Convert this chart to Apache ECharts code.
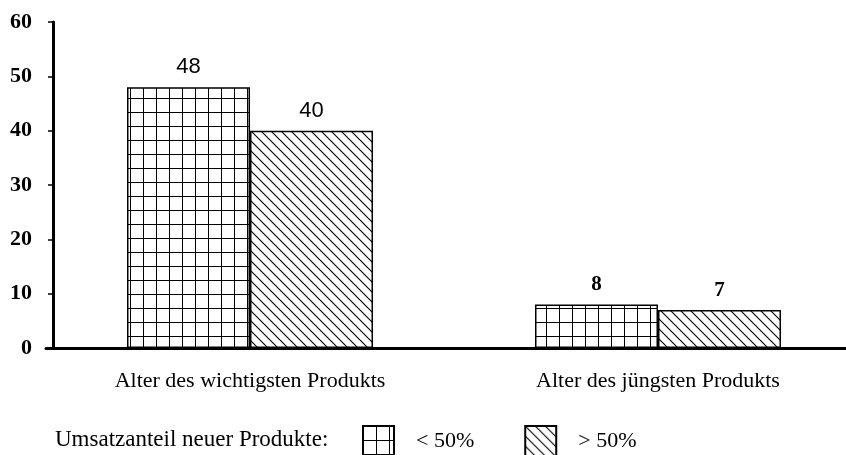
<!DOCTYPE html>
<html>
<head>
<meta charset="utf-8">
<script src="https://cdn.jsdelivr.net/npm/echarts@6/dist/echarts.min.js"></script>
<style>
  html, body { margin: 0; padding: 0; background: #fff; overflow: hidden; }
  /* etwas breiter als das Fenster: die x-Achse läuft rechts aus dem Bild */
  #chart { width: 862px; height: 455px; }
</style>
</head>
<body>
<div id="chart"></div>
<script>
const categories = ['Alter des wichtigsten Produkts', 'Alter des jüngsten Produkts']
const seriesNames = ['< 50%', '> 50%']
const lowShare = [48, 8]
const highShare = [40, 7]
const yTicks = [0, 10, 20, 30, 40, 50, 60]

// Kachel mit Karomuster
const makeGrid = () => {
    const c = document.createElement('canvas')
    c.width = 13
    c.height = 14
    const ctx = c.getContext('2d')
    ctx.fillStyle = '#fff'
    ctx.fillRect(0, 0, 13, 14)
    ctx.strokeStyle = '#000'
    ctx.lineWidth = 1
    ctx.beginPath()
    ctx.moveTo(0.5, 0)
    ctx.lineTo(0.5, 14)
    ctx.moveTo(0, 0.5)
    ctx.lineTo(13, 0.5)
    ctx.stroke()
    return c
}

// Kachel mit Schraffur (links oben nach rechts unten)
const makeHatch = () => {
    const s = 10
    const c = document.createElement('canvas')
    c.width = s
    c.height = s
    const ctx = c.getContext('2d')
    ctx.fillStyle = '#fff'
    ctx.fillRect(0, 0, s, s)
    ctx.strokeStyle = '#000'
    ctx.lineWidth = 1.1
    ctx.beginPath()
    ctx.moveTo(-1, -1)
    ctx.lineTo(s + 1, s + 1)
    ctx.moveTo(-1, s - 1)
    ctx.lineTo(1, s + 1)
    ctx.moveTo(s - 1, -1)
    ctx.lineTo(s + 1, 1)
    ctx.stroke()
    return c
}

const chart = echarts.init(document.getElementById('chart'))
const serif = '"Liberation Serif", "Times New Roman", serif'

// erste Gruppe serifenlos, zweite fett mit Serifen (wie im Original)
const labelFor = (i) => i === 0
    ? { fontFamily: '"Liberation Sans", Arial, sans-serif', fontSize: 22 }
    : { fontFamily: serif, fontSize: 21, fontWeight: 'bold' }

const option = {
    animation: false,
    title: {
        text: 'Umsatzanteil neuer Produkte:',
        left: 55,
        top: 428,
        padding: 0,
        textStyle: { fontFamily: serif, fontSize: 23, fontWeight: 'normal', color: '#000' }
    },
    legend: {
        data: seriesNames,
        icon: 'rect',
        left: 362,
        top: 425,
        itemWidth: 31,
        itemHeight: 30,
        itemGap: 50,
        padding: 0,
        textStyle: { fontFamily: serif, fontSize: 22, color: '#000', padding: [0, 0, 0, 17] }
    },
    grid: { left: 46, right: 0, top: 22, bottom: 107 },
    xAxis: {
        type: 'category',
        data: categories,
        axisLine: { lineStyle: { color: '#000', width: 3 } },
        axisTick: { show: false },
        axisLabel: { fontFamily: serif, fontSize: 22, color: '#000', margin: 22 }
    },
    yAxis: {
        type: 'value',
        min: 0,
        max: yTicks[yTicks.length - 1],
        interval: 10,
        offset: -7,
        axisLine: { show: true, lineStyle: { color: '#000', width: 3 } },
        axisTick: { show: true, length: 5, lineStyle: { color: '#000', width: 1.5 } },
        splitLine: { show: false },
        axisLabel: { fontFamily: serif, fontSize: 22, fontWeight: 'bold', color: '#000', margin: 21 }
    },
    series: [
        {
            name: seriesNames[0],
            type: 'bar',
            barWidth: 123,
            barGap: '0%',
            data: lowShare.map((v, i) => ({ value: v, label: labelFor(i) })),
            itemStyle: { color: { image: makeGrid(), repeat: 'repeat' }, borderColor: '#000', borderWidth: 1.5 },
            label: { show: true, position: 'top', distance: 9, color: '#000' }
        },
        {
            name: seriesNames[1],
            type: 'bar',
            barWidth: 123,
            data: highShare.map((v, i) => ({ value: v, label: labelFor(i) })),
            itemStyle: { color: { image: makeHatch(), repeat: 'repeat' }, borderColor: '#000', borderWidth: 1.5 },
            label: { show: true, position: 'top', distance: 9, color: '#000' }
        }
    ]
}

chart.setOption(option)
</script>
</body>
</html>
